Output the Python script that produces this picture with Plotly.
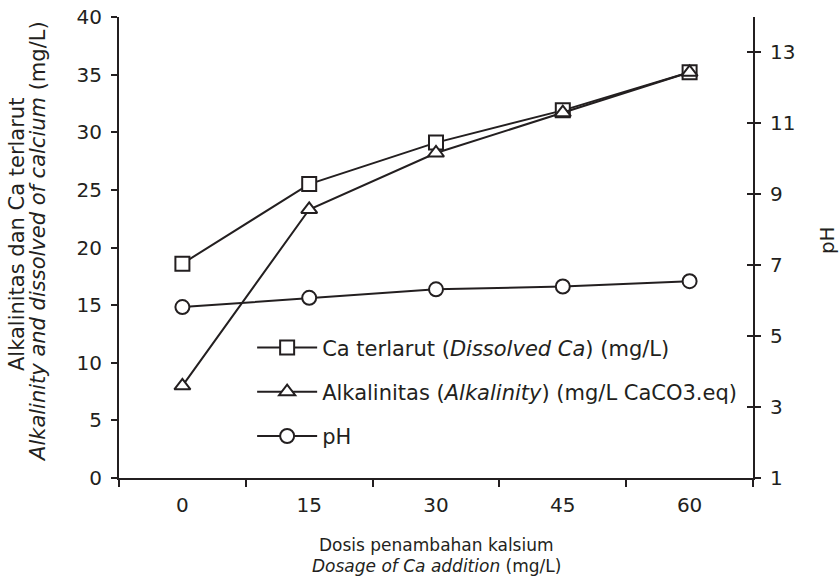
import plotly.graph_objects as go

dosage = ["0", "15", "30", "45", "60"]
ca_dissolved = [18.6, 25.5, 29.1, 31.9, 35.2]
alkalinity = [8.0, 23.3, 28.2, 31.7, 35.2]
ph = [5.82, 6.08, 6.32, 6.4, 6.55]

left_ticks = [0, 5, 10, 15, 20, 25, 30, 35, 40]
right_ticks = [1, 3, 5, 7, 9, 11, 13]

FONT = "DejaVu Sans"
INK = "#231f20"

marker_common = dict(size=14, color="white", line=dict(color=INK, width=2))

fig = go.Figure()
fig.add_trace(go.Scatter(
    x=dosage, y=ca_dissolved, mode="lines+markers",
    name="Ca terlarut (<i>Dissolved Ca</i>) (mg/L)",
    line=dict(color=INK, width=2),
    marker=dict(symbol="square", **marker_common),
    legendgroup="a", yaxis="y"))
fig.add_trace(go.Scatter(
    x=dosage, y=alkalinity, mode="lines+markers",
    name="Alkalinitas (<i>Alkalinity</i>) (mg/L CaCO3.eq)",
    line=dict(color=INK, width=2),
    marker=dict(symbol="triangle-up", **marker_common),
    legendgroup="b", yaxis="y"))
fig.add_trace(go.Scatter(
    x=dosage, y=ph, mode="lines+markers",
    name="pH",
    line=dict(color=INK, width=2),
    marker=dict(symbol="circle", size=14, color="white", line=dict(color=INK, width=2)),
    legendgroup="c", yaxis="y2"))

tick_font = dict(family=FONT, size=20, color=INK)
ytitle_font = dict(family=FONT, size=21, color=INK)
xtitle_font = dict(family=FONT, size=17, color=INK)

fig.update_layout(
    width=840, height=581,
    margin=dict(l=119, r=87, t=17, b=103, autoexpand=False),
    paper_bgcolor="white", plot_bgcolor="white",
    font=tick_font,
    showlegend=True,
    legend=dict(x=0.21, y=0.327, xanchor="left", yanchor="top",
                bgcolor="rgba(0,0,0,0)", font=dict(family=FONT, size=21, color=INK),
                traceorder="grouped", tracegroupgap=14, itemwidth=60),
    xaxis=dict(type="category", range=[-0.5, 4.5], tickson="boundaries",
               ticks="outside", ticklen=7, tickwidth=2, tickcolor=INK,
               showline=True, linecolor=INK, linewidth=2, showgrid=False,
               zeroline=False, tickfont=tick_font, automargin=False,
               ticklabelstandoff=8, ticklabeloverflow="allow"),
    yaxis=dict(range=[0, 40], tickvals=left_ticks, ticks="outside", ticklen=6,
               tickwidth=2, tickcolor=INK, showline=True, linecolor=INK, linewidth=2,
               showgrid=False, zeroline=False, tickfont=tick_font, automargin=False,
               ticklabelstandoff=5, ticklabeloverflow="allow"),
    yaxis2=dict(range=[1, 14], tickvals=right_ticks, overlaying="y", side="right",
                ticks="outside", ticklen=6, tickwidth=2, tickcolor=INK,
                showline=True, linecolor=INK, linewidth=2, showgrid=False,
                zeroline=False, tickfont=tick_font, automargin=False,
                ticklabelstandoff=5, ticklabeloverflow="allow"),
    yaxis3=dict(range=[1, 14], tickvals=right_ticks, overlaying="y", side="right",
                ticks="inside", ticklen=6, tickwidth=2, tickcolor=INK,
                showticklabels=False, showline=False, showgrid=False, zeroline=False,
                automargin=False),
    annotations=[
        dict(text="Alkalinitas dan Ca terlarut", xref="paper", yref="paper",
             x=0, y=0.527, xshift=-102, textangle=-90, showarrow=False,
             xanchor="center", yanchor="middle", font=ytitle_font),
        dict(text="<i>Alkalinity and dissolved of calcium</i> (mg/L)", xref="paper", yref="paper",
             x=0, y=0.512, xshift=-81, textangle=-90, showarrow=False,
             xanchor="center", yanchor="middle", font=ytitle_font),
        dict(text="Dosis penambahan kalsium", xref="paper", yref="paper",
             x=0.5, y=0, yshift=-67, showarrow=False,
             xanchor="center", yanchor="middle", font=xtitle_font),
        dict(text="<i>Dosage of Ca addition</i> (mg/L)", xref="paper", yref="paper",
             x=0.5, y=0, yshift=-88, showarrow=False,
             xanchor="center", yanchor="middle", font=xtitle_font),
        dict(text="pH", xref="paper", yref="paper",
             x=1, y=0.516, xshift=74, textangle=-90, showarrow=False,
             xanchor="center", yanchor="middle", font=tick_font),
    ],
)
fig.add_trace(go.Scatter(x=[None], y=[None], yaxis="y3", showlegend=False, hoverinfo="skip"))

# Remove the browser's default 8px body margin so the figure fills the window exactly.
fig.write_html("out.html", config={"displayModeBar": False},
               post_script="document.body.style.margin='0';")
